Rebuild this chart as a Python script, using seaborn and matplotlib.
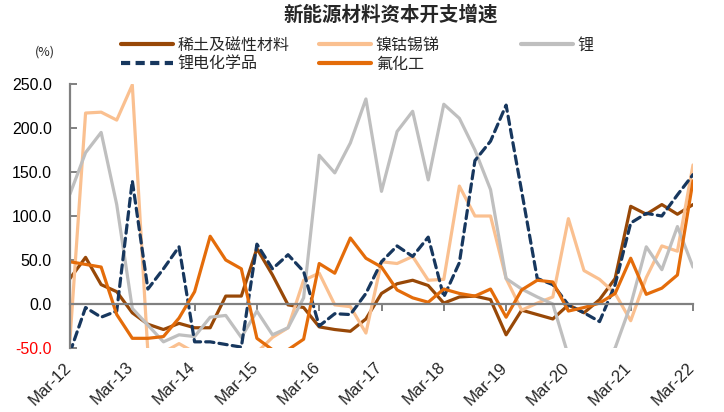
import numpy as np
import pandas as pd
import seaborn as sns
import matplotlib
matplotlib.use("Agg")
import matplotlib.pyplot as plt
from matplotlib.lines import Line2D
from matplotlib.transforms import ScaledTranslation

# ---- data (quarterly, Mar-12 .. Mar-22) ----
tick_labels = ["Mar-12", "Mar-13", "Mar-14", "Mar-15", "Mar-16", "Mar-17",
               "Mar-18", "Mar-19", "Mar-20", "Mar-21", "Mar-22"]

rare_earth = [29, 53, 22, 14, -10, -23, -29, -22, -27, -27, 9, 9, 63, 33, -1, -4,
              -26, -29, -31, -17, 12, 23, 27, 21, 1, 8, 9, 5, -35, -7, -12, -17,
              -1, -10, 5, 29, 111, 102, 113, 102, 113]
nickel = [-40, 217, 218, 209, 249, -55, -55, -45, -55, -52, -52, -52, -55, -38, -27, 27,
          35, -1, -3, -33, 48, 46, 54, 27, 28, 134, 100, 100, 29, -7, 1, 8,
          97, 38, 28, 12, -19, 30, 66, 60, 158]
lithium = [125, 172, 195, 113, -5, -24, -43, -35, -37, -15, -13, -38, -8, -35, -27, 7,
           169, 149, 183, 233, 128, 196, 219, 141, 227, 211, 175, 130, 29, 17, 8, 0,
           -59, -70, -70, -50, -1, 65, 39, 88, 42]
li_chem = [-55, -4, -15, -8, 140, 17, 40, 65, -43, -43, -46, -49, 68, 40, 56, 37,
           -25, -11, -12, 12, 48, 66, 54, 76, 8, 47, 163, 185, 226, 128, 29, 22,
           -1, -10, -20, 22, 92, 103, 100, 124, 147]
fluoro = [48, 45, 42, -12, -39, -39, -37, -16, 14, 77, 50, 40, -39, -52, -52, -40,
          46, 35, 75, 52, 42, 16, 7, 2, 17, 12, 9, 17, -15, 16, 27, 25,
          -8, -4, 1, 12, 52, 11, 18, 33, 140]

names = ["稀土及磁性材料", "镍钴锡锑", "锂", "锂电化学品", "氟化工"]
series = [rare_earth, nickel, lithium, li_chem, fluoro]
colors = ["#984807", "#FAC090", "#BFBFBF", "#17375E", "#E46C0A"]

idx = np.arange(len(rare_earth))
df = pd.DataFrame({n: s for n, s in zip(names, series)})
df["idx"] = idx

sns.set_theme(style="white")
plt.rcParams["font.family"] = ["Noto Sans CJK SC", "DejaVu Sans"]
num_font = ["Liberation Sans", "DejaVu Sans"]

fig = plt.figure(figsize=(7.24, 4.12), dpi=100)
ax = fig.add_axes([70 / 724, 1 - 348 / 412, 623 / 724, 264 / 412])

for n, c in zip(names, colors):
    sns.lineplot(data=df, x="idx", y=n, color=c, linewidth=2.3, ax=ax, legend=False)
    if n == "锂电化学品":
        ln = ax.lines[-1]
        ln.set_dashes([2.6, 1.6])
        ln.set_dash_capstyle("round")

ax.set_xlim(0, 40)
ax.set_ylim(-50, 250)
ax.set_xlabel("")
ax.set_ylabel("")

# axes styling
for s in ["top", "right"]:
    ax.spines[s].set_visible(False)
ax.spines["left"].set_color("#808080")
ax.spines["left"].set_linewidth(1.6)
ax.spines["bottom"].set_position(("data", 0))
ax.spines["bottom"].set_color("#808080")
ax.spines["bottom"].set_linewidth(1.6)

ax.set_yticks([-50, 0, 50, 100, 150, 200, 250])
ax.set_yticklabels([f"{v:.1f}" for v in [-50, 0, 50, 100, 150, 200, 250]],
                   family=num_font, fontsize=11.5)
for lbl in ax.get_yticklabels():
    if lbl.get_text().startswith("-"):
        lbl.set_color("red")
    else:
        lbl.set_color("black")
ax.tick_params(axis="y", direction="in", length=5, width=1.4, color="#808080", pad=13, left=True)

ax.set_xticks(np.arange(0, 41, 4))
ax.set_xticklabels(tick_labels, family=num_font, fontsize=12, rotation=45, ha="right")
ax.tick_params(axis="x", direction="out", length=5, width=1.4, color="#808080", pad=35, bottom=True)
for lbl in ax.get_xticklabels():
    lbl.set_transform(lbl.get_transform() + ScaledTranslation(4 / 100, 0, fig.dpi_scale_trans))

# title & unit
fig.text(391 / 724, 1 - 15 / 412, "新能源材料资本开支增速", ha="center", va="center",
         fontsize=14, fontweight="bold")
fig.text(35 / 724, 1 - 52 / 412, "(%)", ha="left", va="center", fontsize=9)

# legend in three columns
def handle(c, dashed=False):
    h = Line2D([], [], color=c, lw=3)
    if dashed:
        h.set_dashes([2.2, 1.3])
    return h

cols = [
    (121, [(colors[0], names[0], False), (colors[3], names[3], True)]),
    (319, [(colors[1], names[1], False), (colors[4], names[4], False)]),
    (521, [(colors[2], names[2], False)]),
]
for x0, items in cols:
    leg = fig.legend([handle(c, d) for c, _, d in items], [t for _, t, _ in items],
                     loc="upper left", bbox_to_anchor=(x0 / 724, 1 - 37 / 412),
                     frameon=False, fontsize=11.5, handlelength=3.25, handletextpad=0.3,
                     labelspacing=0.1, borderpad=0, borderaxespad=0)

fig.savefig("out.png", dpi=100)
